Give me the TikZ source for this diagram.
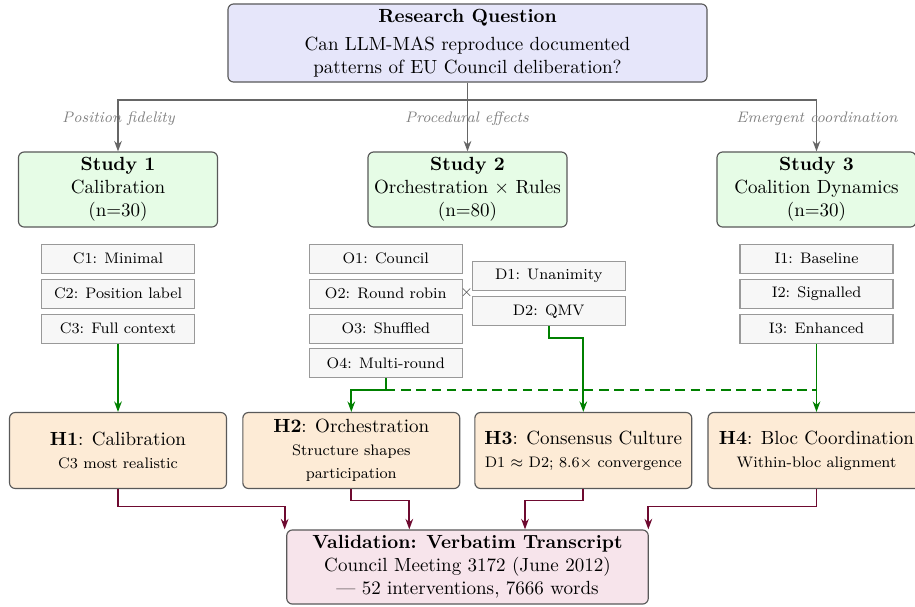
\documentclass[tikz,border=0pt]{standalone}
\usetikzlibrary{arrows.meta,calc}
\definecolor{mar}{HTML}{6E0A30}
\definecolor{rqfill}{HTML}{E6E6FA}
\definecolor{stfill}{HTML}{E6FCE6}
\definecolor{hyfill}{HTML}{FDEBD6}
\definecolor{vafill}{HTML}{F7E4EB}
\begin{document}
\begin{tikzpicture}[x=0.525pt,y=-0.525pt,
  box/.style={draw=black!65, rounded corners=3pt, align=center, inner sep=2pt, line width=0.6pt},
  rqbox/.style={box, fill=rqfill, minimum width=251.5pt, minimum height=41pt},
  studybox/.style={box, fill=stfill, minimum width=104.5pt, minimum height=39.4pt},
  condbox/.style={draw=black!40, fill=black!3, minimum width=80.3pt, minimum height=15.2pt, font=\footnotesize, inner sep=1pt, line width=0.6pt},
  hypbox/.style={box, fill=hyfill, minimum width=113.9pt, minimum height=39.9pt},
  valbox/.style={box, fill=vafill, minimum width=189.8pt, minimum height=38.9pt},
  tip/.style={-{Stealth[length=5.5pt,width=4pt]}},
  grayarrow/.style={draw=black!60, line width=0.9pt, tip},
  greenarrow/.style={draw=green!50!black, line width=0.9pt, tip},
  greenline/.style={draw=green!50!black, line width=0.9pt},
  mararrow/.style={draw=mar, line width=0.9pt, tip},
  lbl/.style={font=\footnotesize\itshape, text=black!50}
]
\useasboundingbox (0,0) rectangle (915,606);
\clip (0,0) rectangle (915,606);

% Research question
\node[rqbox] (rq) at (467.5,43) {\textbf{Research Question}\\[3pt] Can LLM-MAS reproduce documented\\ patterns of EU Council deliberation?};

% Studies
\node[studybox] (s1) at (118,189.5) {\textbf{Study 1}\\ Calibration\\ (n=30)};
\node[studybox] (s2) at (467.5,189.5) {\textbf{Study 2}\\ Orchestration $\times$ Rules\\ (n=80)};
\node[studybox] (s3) at (816.5,189.5) {\textbf{Study 3}\\ Coalition Dynamics\\ (n=30)};

\coordinate (hub) at (467.5,100);
\draw[grayarrow] (hub) -| (s1.north);
\draw[grayarrow] (hub) -| (s3.north);
\draw[grayarrow] (rq.south) -- (s2.north);

\node[lbl] (l1) at (118.5,118.5) {Position fidelity};
\node[lbl] (l2) at (467,118.5) {Procedural effects};
\node[lbl] (l3) at (817,118.5) {Emergent coordination};

% Conditions
\node[condbox] (c1) at (118,258.7) {C1: Minimal};
\node[condbox] (c2) at (118,293.7) {C2: Position label};
\node[condbox] (c3) at (118,328.7) {C3: Full context};

\node[condbox] (o1) at (385.8,258.7) {O1: Council};
\node[condbox] (o2) at (385.8,293.7) {O2: Round robin};
\node[condbox] (o3) at (385.8,328.7) {O3: Shuffled};
\node[condbox] (o4) at (385.8,363.2) {O4: Multi-round};

\node[condbox] (d1) at (548.7,276.2) {D1: Unanimity};
\node[condbox] (d2) at (548.7,311.2) {D2: QMV};

\node[font=\footnotesize, text=black!70, inner sep=0pt] (times) at (466.7,292.7) {$\times$};

\node[condbox] (i1) at (816.5,258.7) {I1: Baseline};
\node[condbox] (i2) at (816.5,293.7) {I2: Signalled};
\node[condbox] (i3) at (816.5,328.7) {I3: Enhanced};

% Hypotheses
\node[hypbox] (h1) at (118,450.5) {\textbf{H1}: Calibration\\ {\footnotesize C3 most realistic}};
\node[hypbox] (h2) at (351.3,450.5) {\textbf{H2}: Orchestration\\ {\footnotesize Structure shapes}\\ {\footnotesize participation}};
\node[hypbox] (h3) at (583.3,450.5) {\textbf{H3}: Consensus Culture\\ {\footnotesize D1 $\approx$ D2; 8.6$\times$ convergence}};
\node[hypbox] (h4) at (816.5,450.5) {\textbf{H4}: Bloc Coordination\\ {\footnotesize Within-bloc alignment}};

% Green connectors
\draw[greenarrow] (c3.south) -- (h1.north);
\coordinate (oj) at ($(o4.south)+(0,12)$);
\draw[greenarrow] (o4.south) -- (oj) -| (h2.north);
\coordinate (dj) at ($(d2.south)+(0,12)$);
\draw[greenarrow] (d2.south) -- (dj) -| (h3.north);
\draw[greenarrow] (i3.south) -- (h4.north);
\coordinate (ij) at (i3.south |- oj);
\draw[greenline, dashed, dash pattern=on 5pt off 3pt] (oj) -- (ij);

% Validation
\node[valbox] (val) at (467.5,567) {\textbf{Validation: Verbatim Transcript}\\ Council Meeting 3172 (June 2012)\\ --- 52 interventions, 7666 words};

\coordinate (va) at ($(val.north west)+(-1.5,0)$);
\coordinate (vb) at ($(val.north)+(-58.2,0)$);
\coordinate (vc) at ($(val.north)+(57.5,0)$);
\coordinate (vd) at ($(val.north east)+(-0.5,0)$);
\draw[mararrow] (h1.south) -- ++(0,17.5) -| (va);
\draw[mararrow] (h2.south) -- ++(0,11.5) -| (vb);
\draw[mararrow] (h3.south) -- ++(0,11.5) -| (vc);
\draw[mararrow] (h4.south) -- ++(0,17.5) -| (vd);
\end{tikzpicture}
\end{document}
